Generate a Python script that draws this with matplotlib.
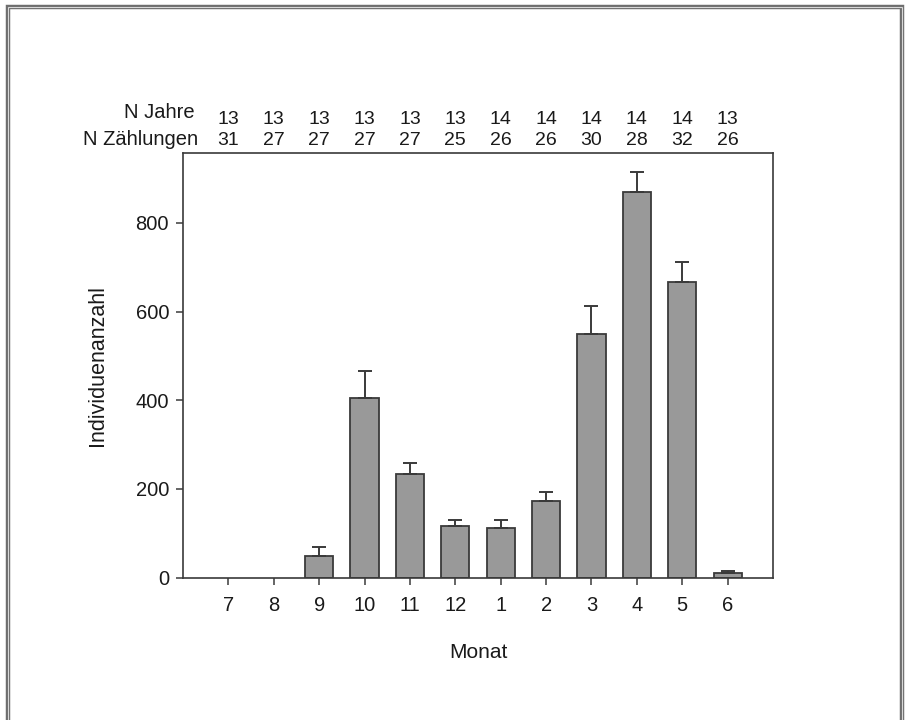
import matplotlib
matplotlib.use("Agg")
import matplotlib.pyplot as plt
import numpy as np
from matplotlib.patches import Rectangle

# month order of the season (July to June)
months = ["7", "8", "9", "10", "11", "12", "1", "2", "3", "4", "5", "6"]
mean_count = [0, 0, 49, 406, 234, 117, 113, 174, 550, 870, 667, 10]
upper_err = [0, 0, 20, 60, 25, 12, 17, 20, 63, 44, 45, 4]
n_years = [13, 13, 13, 13, 13, 13, 14, 14, 14, 14, 14, 13]
n_counts = [31, 27, 27, 27, 27, 25, 26, 26, 30, 28, 32, 26]

plt.rcParams["font.family"] = ["Liberation Sans", "DejaVu Sans"]
TEXT = "#1a1a1a"
LINE = "#3a3a3a"
FS = 14.5

fig = plt.figure(figsize=(9.09, 7.2), dpi=100)
W, H = 909, 720

# double frame around the whole figure (bottom runs off the image)
fig.patches.append(Rectangle((8 / W, -20 / H), (902 - 8) / W, (713 + 20) / H,
                             transform=fig.transFigure, fill=False,
                             edgecolor="#6e6e6e", linewidth=3.2))
fig.patches.append(Rectangle((8 / W, -20 / H), (902 - 8) / W, (713 + 20) / H,
                             transform=fig.transFigure, fill=False,
                             edgecolor="#d8d8d8", linewidth=0.8))

ax = fig.add_axes([183 / W, (H - 577.7) / H, (773 - 183) / W, (577.7 - 152.7) / H])

x = np.arange(len(months))
lower = np.zeros(len(months))
# months without birds get no outline and no error bar
edge_w = [1.3 if v > 0 else 0 for v in mean_count]
ax.bar(x, mean_count, width=0.62, color="#999999", edgecolor=LINE, linewidth=edge_w)
has_err = [i for i, e in enumerate(upper_err) if e > 0]
ax.errorbar(x[has_err], np.array(mean_count)[has_err],
            yerr=[lower[has_err], np.array(upper_err)[has_err]],
            fmt="none", ecolor=LINE, elinewidth=1.4, capthick=1.4, capsize=4.8)

ax.set_xlim(-1, 12)
ax.set_ylim(0, 958)
ax.set_xticks(x)
ax.set_xticklabels(months)
ax.set_yticks([0, 200, 400, 600, 800])

for side in ["left", "right", "top", "bottom"]:
    ax.spines[side].set_color(LINE)
    ax.spines[side].set_linewidth(1.2)

ax.tick_params(axis="both", direction="out", length=5, width=1.1, color=LINE,
               labelsize=FS, labelcolor=TEXT)
ax.tick_params(axis="x", pad=8)
ax.tick_params(axis="y", pad=5)

ax.set_xlabel("Monat", fontsize=15, color=TEXT, labelpad=20)
ax.set_ylabel("Individuenanzahl", fontsize=15.5, color=TEXT, labelpad=20)

# sample sizes above the plot
trans = ax.get_xaxis_transform()
span = 577.7 - 152.7
row_years = 1 + (152.7 - 124) / span
row_counts = 1 + (152.7 - 145) / span
for xi, ny, nc in zip(x, n_years, n_counts):
    ax.text(xi, row_years, str(ny), transform=trans, ha="center", va="baseline",
            fontsize=14, color=TEXT)
    ax.text(xi, row_counts, str(nc), transform=trans, ha="center", va="baseline",
            fontsize=14, color=TEXT)
ax.text(195 / W, (H - 118) / H, "N Jahre", transform=fig.transFigure,
        ha="right", va="baseline", fontsize=FS, color=TEXT)
ax.text(198 / W, (H - 145) / H, "N Zählungen", transform=fig.transFigure,
        ha="right", va="baseline", fontsize=FS, color=TEXT)

fig.savefig("out.png", dpi=100)
